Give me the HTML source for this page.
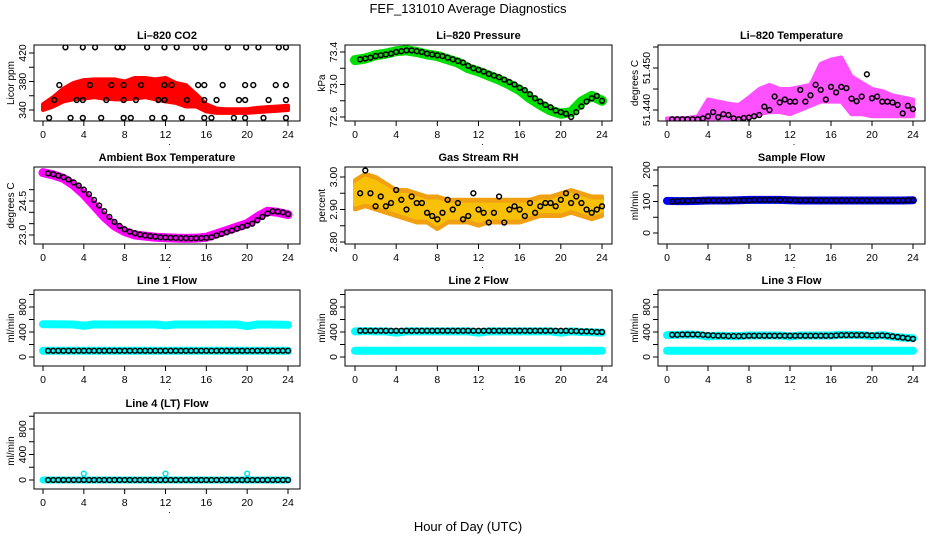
<!DOCTYPE html>
<html><head><meta charset="utf-8">
<style>
html,body{margin:0;padding:0;background:#fff;}
svg{display:block;font-family:"Liberation Sans",sans-serif;}
</style></head>
<body>
<svg id="chart" width="936" height="540" viewBox="0 0 936 540">
<text x="468" y="13" font-size="13" text-anchor="middle">FEF_131010  Average Diagnostics</text>
<text x="468" y="531" font-size="13" text-anchor="middle">Hour of Day (UTC)</text>
</svg>
<script>
// ---- data ----
const hours = [0,1,2,3,4,5,6,7,8,9,10,11,12,13,14,15,16,17,18,19,20,21,22,23,24];
const xTicks = [0,4,8,12,16,20,24];
// CO2
const co2Low  = [340,345,352,355,356,358,356,355,355,356,358,355,352,350,345,345,338,336,336,336,336,337,338,339,340];
const co2High = [348,358,370,378,382,383,383,383,380,385,385,383,385,378,375,362,348,342,341,341,341,343,344,345,346];
const co2BlackT = [2.2,3.9,5.1,7.3,7.8,10.2,11.9,13.1,15.0,15.8,18.1,19.9,21.1,23.1,23.8, 1.6,4.6,6.7,7.9,9.6,11.9,12.6,15.2,15.8,17.6,19.8,20.6,22.8,23.8, 1.1,3.3,3.9,6.2,7.9,9.1,11.3,11.9,14.1,15.8,17.0,19.2,19.8,22.1,23.8, 0.6,2.7,3.9,5.7,7.9,8.6,10.7,11.9,13.6,15.8,16.5,18.7,19.8,21.6,23.8];
const co2BlackV = [428,428,428,428,428,428,428,428,428,428,428,428,428,428,428, 375,375,375,375,375,375,375,375,375,375,375,375,375,375, 354,354,354,354,354,354,354,354,354,354,354,354,354,354,354, 329,329,329,329,329,329,329,329,329,329,329,329,329,329,329];
// Pressure
const presLine = [73.30,73.32,73.36,73.38,73.41,73.42,73.40,73.37,73.35,73.31,73.27,73.20,73.16,73.11,73.06,73.00,72.93,72.83,72.75,72.68,72.64,72.66,72.79,72.86,72.80];
const presBlack = [73.31,73.32,73.33,73.35,73.36,73.37,73.38,73.40,73.41,73.42,73.42,73.41,73.40,73.38,73.37,73.36,73.35,73.33,73.31,73.29,73.27,73.23,73.20,73.18,73.16,73.13,73.11,73.09,73.06,73.03,73.00,72.96,72.93,72.88,72.83,72.79,72.75,72.72,72.68,72.66,72.64,72.60,72.66,72.73,72.79,72.83,72.86,72.80];
// Li-820 temperature
const tempLow  = [51.4377,51.4377,51.4377,51.4378,51.4380,51.4380,51.4380,51.4380,51.4382,51.4390,51.4395,51.4395,51.4390,51.4400,51.4410,51.4420,51.4420,51.4420,51.4390,51.4390,51.4385,51.4385,51.4385,51.4385,51.4385];
const tempHigh = [51.4380,51.4380,51.4381,51.4385,51.4425,51.4420,51.4415,51.4412,51.4430,51.4450,51.4460,51.4450,51.4450,51.4455,51.4460,51.4510,51.4520,51.4525,51.4480,51.4465,51.4450,51.4445,51.4435,51.4430,51.4425];
const tempBlack = [51.4378,51.4378,51.4378,51.4378,51.4378,51.4378,51.4380,51.4385,51.4395,51.4383,51.4390,51.4388,51.4380,51.4378,51.4381,51.4382,51.4385,51.4388,51.4408,51.4400,51.4432,51.4418,51.4425,51.4420,51.4420,51.4448,51.4420,51.4435,51.4460,51.4448,51.4425,51.4455,51.4442,51.4455,51.4452,51.4427,51.4421,51.4432,51.4485,51.4428,51.4432,51.4420,51.4420,51.4418,51.4412,51.4392,51.4410,51.4402];
// Ambient box temperature
const ambLine = [25.75,25.65,25.5,25.2,24.8,24.3,23.8,23.4,23.15,23.0,22.95,22.9,22.88,22.86,22.85,22.86,22.9,23.05,23.2,23.35,23.5,23.8,24.05,24.0,23.9];
const ambBlack = [25.72,25.68,25.62,25.55,25.45,25.32,25.18,25.0,24.8,24.55,24.3,24.05,23.8,23.58,23.4,23.25,23.15,23.08,23.02,22.98,22.95,22.93,22.9,22.89,22.88,22.87,22.86,22.86,22.85,22.86,22.86,22.88,22.9,22.98,23.05,23.12,23.2,23.28,23.35,23.42,23.5,23.65,23.8,23.95,24.05,24.03,24.0,23.92];
// Gas stream RH
const rhLow  = [2.90,2.91,2.90,2.89,2.88,2.87,2.86,2.86,2.84,2.86,2.86,2.86,2.85,2.86,2.86,2.86,2.86,2.87,2.88,2.88,2.88,2.89,2.88,2.87,2.88];
const rhHigh = [2.99,3.01,3.00,2.98,2.96,2.96,2.95,2.94,2.94,2.93,2.93,2.93,2.93,2.93,2.93,2.93,2.93,2.93,2.94,2.94,2.95,2.96,2.95,2.94,2.94];
const rhBlack = [2.95,3.02,2.95,2.91,2.94,2.91,2.92,2.96,2.93,2.90,2.94,2.92,2.92,2.89,2.88,2.87,2.89,2.93,2.90,2.92,2.87,2.88,2.95,2.90,2.89,2.86,2.89,2.94,2.86,2.90,2.91,2.90,2.88,2.92,2.89,2.91,2.92,2.92,2.91,2.93,2.95,2.92,2.94,2.92,2.90,2.89,2.90,2.91];
// Flows
const sampleLine = [102,101,101,102,103,103,103,104,105,105,105,105,104,103,103,103,103,103,103,103,103,103,103,103,104];
const sampleBlack = [100,101,102,102,103,103,103,103,103,103,103,103,104,104,104,104,105,105,105,105,105,105,105,105,104,104,104,104,103,103,103,103,103,103,103,103,103,103,103,103,103,103,103,103,103,103,104,104];
const line1Cyan = [525,525,522,520,500,522,520,520,520,520,520,520,505,520,520,520,520,522,520,520,495,520,520,518,515];
const line1Black = [100,100,100,100,100,100,100,100,100,100,100,100,100,100,100,100,100,100,100,100,100,100,100,100,100,100,100,100,100,100,100,100,100,100,100,100,100,100,100,100,100,100,100,100,100,100,100,100];
const line2Cyan = [410,415,410,410,390,410,410,410,410,410,410,410,390,410,410,410,410,410,410,410,390,410,400,395,390];
const line2Black = [420,420,420,420,420,420,420,420,420,420,420,420,420,420,420,420,420,420,420,420,420,420,420,420,420,420,420,420,420,420,420,420,420,420,420,420,420,420,420,420,420,415,415,410,410,405,400,400];
const line3Cyan = [350,355,360,355,330,340,335,335,345,345,345,345,330,345,345,345,345,355,355,350,335,350,325,310,300];
const line3Black = [355,355,360,360,360,360,355,350,345,340,340,335,335,335,335,340,340,340,340,340,340,340,340,340,340,340,340,340,340,340,340,340,345,350,350,350,350,350,350,345,345,345,340,330,320,310,300,290];
const line4Black = [0,0,0,0,0,0,0,0,0,0,0,0,0,0,0,0,0,0,0,0,0,0,0,0,0,0,0,0,0,0,0,0,0,0,0,0,0,0,0,0,0,0,0,0,0,0,0,0];
const blackTimes = Array.from({length:48},(_,i)=>0.5+i*0.5);

// ---- layout ----
const svg = document.getElementById('chart');
const NS = 'http://www.w3.org/2000/svg';
const cols = [{l:34,r:300,x0:43,x24:288},{l:345,r:612,x0:355,x24:602},{l:658,r:925,x0:667,x24:913}];
const rows = [{t:45,b:121},{t:167,b:244},{t:290,b:366},{t:413,b:489}];

function mk(tag, attrs, parent){
  const e = document.createElementNS(NS, tag);
  for (const k in attrs) e.setAttribute(k, attrs[k]);
  (parent||svg).appendChild(e);
  return e;
}

function panel(name, title, ylab, ci, ri, ya, yb, ticks, labels){
  const c = cols[ci], r = rows[ri];
  const g = mk('g', {});
  
  
  const xs = h => c.x0 + (c.x24 - c.x0) * h / 24;
  const ys = v => ya[1] + (yb[1] - ya[1]) * (v - ya[0]) / (yb[0] - ya[0]);
  const t = mk('text', {x:(c.l+c.r)/2, y:r.t-6, 'font-size':11, 'font-weight':'bold', 'text-anchor':'middle'}, g);
  t.textContent = title;
  
  
  const yl = mk('text', {transform:`translate(${c.l-20},${(r.t+r.b)/2}) rotate(-90)`, 'font-size':10, 'text-anchor':'middle'}, g);
  yl.textContent = ylab;
  
  
  const plot = mk('g', {}, g);
  
  
  const clip = 'clip-' + name;
  const cp = mk('clipPath', {id:clip}, g);
  mk('rect', {x:c.l, y:r.t, width:c.r-c.l, height:r.b-r.t}, cp);
  plot.setAttribute('clip-path', `url(#${clip})`);
  const box = mk('rect', {x:c.l, y:r.t, width:c.r-c.l, height:r.b-r.t, fill:'none', stroke:'#000', 'stroke-width':1}, g);
  
  
  xTicks.forEach(h => {
    mk('line', {x1:xs(h), x2:xs(h), y1:r.b, y2:r.b+5, stroke:'#000'}, g);
    const tl = mk('text', {x:xs(h), y:r.b+17, 'font-size':10.5, 'text-anchor':'middle'}, g);
    tl.textContent = h;
    
    
  });
  const dot = mk('text', {x:xs(12)+4, y:r.b+24, 'font-size':9, 'text-anchor':'middle'}, g);
  dot.textContent = '.';
  ticks.forEach(v => {
    mk('line', {x1:c.l-5, x2:c.l, y1:ys(v), y2:ys(v), stroke:'#000'}, g);
  });
  labels.forEach(v => {
    const tl = mk('text', {transform:`translate(${c.l-8},${ys(v)}) rotate(-90)`, 'font-size':10.5, 'text-anchor':'middle'}, g);
    tl.textContent = v;
    
    
  });
  return {plot, xs, ys};
}

function band(p, name, low, high, fill, op){
  const pts = hours.map((h,i)=>`${p.xs(h)},${p.ys(high[i])}`).concat(hours.slice().reverse().map((h,j)=>{const i=hours.length-1-j; return `${p.xs(h)},${p.ys(low[i])}`;}));
  const e = mk('polygon', {points:pts.join(' '), fill, stroke:fill, 'stroke-width':4, 'stroke-linejoin':'round', opacity:op||1}, p.plot);
  
  
}
function thick(p, name, vals, color, w){
  const e = mk('polyline', {points:hours.map((h,i)=>`${p.xs(h)},${p.ys(vals[i])}`).join(' '), fill:'none', stroke:color, 'stroke-width':w, 'stroke-linejoin':'round', 'stroke-linecap':'round'}, p.plot);
  
  
}
function pts(p, name, ts, vals, color){
  ts.forEach((t,i)=>{
    const e = mk('circle', {cx:p.xs(t), cy:p.ys(vals[i]), r:2.4, fill:'none', stroke:color, 'stroke-width':1.5}, p.plot);
    
    
  });
}

// Li-820 CO2
let p = panel('co2','Li\u2013820 CO2','Licor ppm',0,0,[340,110],[420,53],[340,360,380,400,420],[340,380,420]);
band(p,'co2-range',co2Low,co2High,'#ff0000');
pts(p,'co2-point',co2BlackT,co2BlackV,'#000');
// Pressure
p = panel('pressure','Li\u2013820 Pressure','kPa',1,0,[73.4,52],[72.6,117],[72.6,72.8,73.0,73.2,73.4],['72.6','73.0','73.4']);
thick(p,'pressure-range',presLine,'#00dd00',10);
pts(p,'pressure-point',blackTimes,presBlack,'#000');
// Temperature
p = panel('li820-temp','Li\u2013820 Temperature','degrees C',2,0,[51.44,110],[51.45,68],[51.44,51.445,51.45,51.455],['51.440','51.450']);
band(p,'li820-temp-range',tempLow,tempHigh,'#ff33ff',0.85);
pts(p,'li820-temp-point',blackTimes,tempBlack,'#000');
// Ambient
p = panel('ambient','Ambient Box Temperature','degrees C',0,1,[23.0,235],[24.5,201],[23.0,23.5,24.0,24.5,25.0],['23.0','24.5']);
thick(p,'ambient-range',ambLine,'#ff00ff',9);
pts(p,'ambient-point',blackTimes,ambBlack,'#000');
// RH
p = panel('rh','Gas Stream RH','percent',1,1,[3.0,177],[2.8,242],[2.8,2.85,2.9,2.95,3.0],['2.80','2.90','3.00']);
band(p,'rh-range',rhLow,rhHigh,'#f0a010');
band(p,'rh-range-inner',rhLow.map(v=>v+0.015),rhHigh.map(v=>v-0.015),'#ffd800',0.6);
pts(p,'rh-point',blackTimes,rhBlack,'#000');
// Sample flow
p = panel('sample-flow','Sample Flow','ml/min',2,1,[0,233],[200,170],[0,50,100,150,200],[0,100,200]);
thick(p,'sample-flow-range',sampleLine,'#0000ff',8);
pts(p,'sample-flow-point',blackTimes,sampleBlack,'#000');
// Line flows
const lt = [0,200,400,600,800,1000], ll = [0,400,800];
p = panel('line1','Line 1 Flow','ml/min',0,2,[0,357],[800,307],lt,ll);
thick(p,'line1-cyan',line1Cyan,'#00ffff',8);
thick(p,'line1-cyan-low',line1Black.slice(0,25),'#00ffff',8);
pts(p,'line1-point',blackTimes,line1Black,'#000');
p = panel('line2','Line 2 Flow','ml/min',1,2,[0,357],[800,307],lt,ll);
thick(p,'line2-cyan',line2Cyan,'#00ffff',8);
thick(p,'line2-cyan-low',hours.map(()=>100),'#00ffff',8);
pts(p,'line2-point',blackTimes,line2Black,'#000');
p = panel('line3','Line 3 Flow','ml/min',2,2,[0,357],[800,307],lt,ll);
thick(p,'line3-cyan',line3Cyan,'#00ffff',8);
thick(p,'line3-cyan-low',hours.map(()=>100),'#00ffff',8);
pts(p,'line3-point',blackTimes,line3Black,'#000');
p = panel('line4','Line 4 (LT) Flow','ml/min',0,3,[0,480],[800,429],lt,ll);
thick(p,'line4-cyan',hours.map(()=>0),'#00ffff',7);
pts(p,'line4-blip',[4,12,20],[100,100,100],'#00e5e5');
pts(p,'line4-point',blackTimes,line4Black,'#000');
</script>
</body></html>
